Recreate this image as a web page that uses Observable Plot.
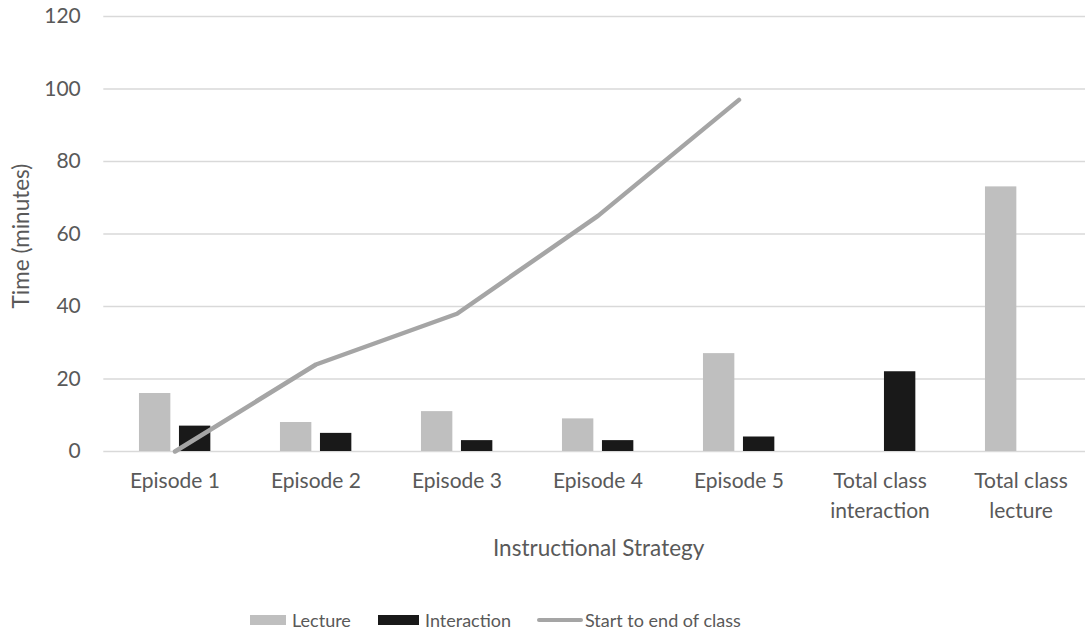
<!DOCTYPE html>
<html>
<head>
<meta charset="utf-8">
<script src="https://cdn.jsdelivr.net/npm/d3@7"></script>
<script src="https://cdn.jsdelivr.net/npm/@observablehq/plot@0.6"></script>
<style>
  html, body { margin: 0; padding: 0; background: #fff; }
  #wrap { position: relative; width: 1085px; height: 632px; overflow: hidden; font-family: Lato, "Open Sans", sans-serif; }
  #legend { position: absolute; left: 0; top: 608px; width: 1085px; height: 24px; }
  .item { position: absolute; top: 0; height: 24px; display: flex; align-items: center; font-size: 18px; color: #595959; }
  .sw { display: inline-block; margin-right: 6px; }
</style>
</head>
<body>
<div id="wrap"><div id="chart"></div><div id="legend"></div></div>
<script>
const categories = ["Episode 1", "Episode 2", "Episode 3", "Episode 4", "Episode 5", "Total class interaction", "Total class lecture"];
const xTickLabels = ["Episode 1", "Episode 2", "Episode 3", "Episode 4", "Episode 5", "Total class\ninteraction", "Total class\nlecture"];
const lecture = [16, 8, 11, 9, 27, 0, 73];
const interaction = [7, 5, 3, 3, 4, 22, 0];
const lineCategories = ["Episode 1", "Episode 2", "Episode 3", "Episode 4", "Episode 5"];
const startToEnd = [0, 24, 38, 65, 97];
const yTicks = [0, 20, 40, 60, 80, 100, 120];
const seriesNames = ["Lecture", "Interaction", "Start to end of class"];
const colors = {Lecture: "#bfbfbf", Interaction: "#191919", Line: "#a5a5a5"};

const lectureData = categories.map((c, i) => ({c, v: lecture[i]})).filter(d => d.v > 0);
const interactionData = categories.map((c, i) => ({c, v: interaction[i]})).filter(d => d.v > 0);
const lineData = lineCategories.map((c, i) => ({c, v: startToEnd[i]}));
const tickData = categories.map((c, i) => ({c, t: xTickLabels[i]}));

const W = 1085, H = 604;
const mLeft = 103.3, mTop = 16, yBottom = 451;
const step = 141.33;
const half = step / 2;

const chart = Plot.plot({
  width: W,
  height: H,
  marginLeft: mLeft,
  marginRight: 0,
  marginTop: mTop,
  marginBottom: H - yBottom,
  style: {fontFamily: "Lato, 'Open Sans', sans-serif", fontSize: "20px", color: "#595959", background: "#fff", overflow: "visible"},
  x: {domain: categories, range: [mLeft, mLeft + step * categories.length], padding: 0, axis: null},
  y: {domain: [0, 120], range: [yBottom, mTop], axis: null},
  marks: [
    Plot.ruleY(yTicks, {stroke: "#d9d9d9", strokeWidth: 1.5}),
    Plot.text(yTicks, {frameAnchor: "left", y: d => d, text: d => String(d), textAnchor: "end", dx: -23, fill: "#595959", fontSize: 21}),
    Plot.barY(lectureData, {x: "c", y: "v", fill: colors.Lecture, insetLeft: half - 35.7, insetRight: half + 4}),
    Plot.barY(interactionData, {x: "c", y: "v", fill: colors.Interaction, insetLeft: half + 4.3, insetRight: half - 36}),
    Plot.lineY(lineData, {x: "c", y: "v", stroke: colors.Line, strokeWidth: 4.5, strokeLinecap: "round", strokeLinejoin: "round"}),
    Plot.text(tickData, {x: "c", frameAnchor: "bottom", text: "t", lineAnchor: "top", lineHeight: 1.43, dy: 15, fill: "#595959", fontSize: 21}),
    Plot.text(["Instructional Strategy"], {frameAnchor: "bottom", textAnchor: "middle", text: d => d, dx: 4, dy: 104, fill: "#595959", fontSize: 22.5}),
    Plot.text(["Time (minutes)"], {frameAnchor: "left", textAnchor: "middle", text: d => d, rotate: -90, dx: -82, dy: 2, fill: "#595959", fontSize: 22.5})
  ]
});
document.getElementById("chart").appendChild(chart);

// Legend
const legend = document.getElementById("legend");
const items = [
  {name: seriesNames[0], x: 250, sw: `<span class="sw" style="width:36px;height:10px;background:${colors.Lecture}"></span>`},
  {name: seriesNames[1], x: 378, sw: `<span class="sw" style="width:41px;height:10px;background:${colors.Interaction}"></span>`},
  {name: seriesNames[2], x: 537, sw: `<span class="sw" style="width:46px;height:4.5px;border-radius:3px;background:${colors.Line};margin-right:2px"></span>`}
];
for (const it of items) {
  const div = document.createElement("div");
  div.className = "item";
  div.style.left = it.x + "px";
  div.innerHTML = it.sw + `<span>${it.name}</span>`;
  legend.appendChild(div);
}
</script>
</body>
</html>
